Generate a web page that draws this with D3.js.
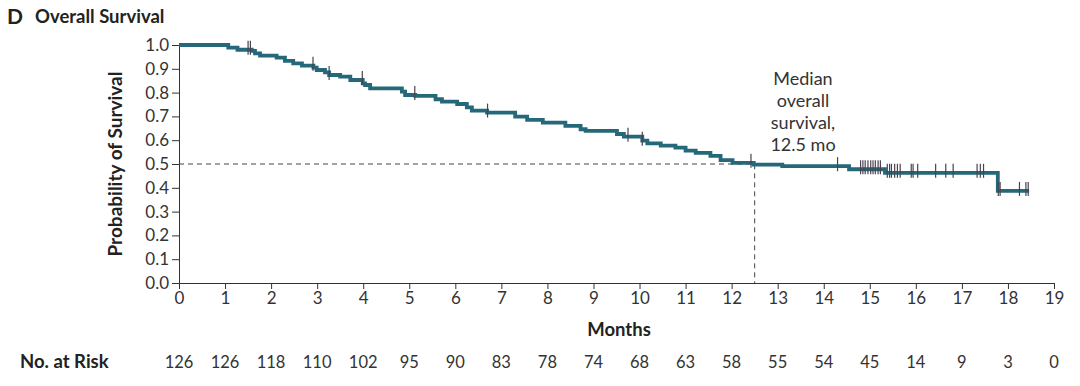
<!DOCTYPE html>
<html>
<head>
<meta charset="utf-8">
<script src="https://cdn.jsdelivr.net/npm/d3@7"></script>
<style>
    body { margin: 0; background: #fff; }
    svg { display: block; }
    text { font-family: Lato, "Open Sans", sans-serif; fill: #333; }
</style>
</head>
<body>
<svg id="grafico"></svg>
<script>
"use strict"
// step times (months) and survival after each step
const tempi = [0, 1.07, 1.27, 1.58, 1.65, 1.76, 2.12, 2.3, 2.48, 2.67, 2.92, 2.99, 3.17, 3.26, 3.5, 3.72, 3.99, 4.04, 4.15,
    4.84, 4.91, 5.13, 5.57, 5.71, 6.04, 6.25, 6.36, 6.69, 7.3, 7.56, 7.9, 8.39, 8.72, 8.83, 9.51, 9.66, 10.06, 10.17,
    10.46, 10.78, 11.0, 11.22, 11.54, 11.76, 12.02, 12.48, 13.1, 14.55, 15.33, 17.78];
const sopravvivenza = [1.0, 0.989, 0.98, 0.975, 0.965, 0.955, 0.947, 0.933, 0.923, 0.913, 0.905, 0.895, 0.885, 0.874, 0.867, 0.853, 0.839, 0.832, 0.818,
    0.804, 0.79, 0.786, 0.772, 0.762, 0.752, 0.738, 0.724, 0.716, 0.699, 0.685, 0.674, 0.66, 0.646, 0.639, 0.626, 0.615, 0.598, 0.587,
    0.577, 0.569, 0.556, 0.547, 0.534, 0.516, 0.505, 0.497, 0.491, 0.478, 0.463, 0.387];
const fineCurva = 18.46;
// censored observations
const censure = [1.5, 1.55, 2.91, 3.26, 3.98, 5.12, 6.7, 9.75, 10.06, 12.42, 14.3, 14.8, 14.85, 14.9, 14.96, 15.02, 15.07,
    15.12, 15.18, 15.23, 15.38, 15.43, 15.47, 15.54, 15.6, 15.66, 15.9, 15.94, 16.04, 16.43, 16.65, 16.81, 17.33, 17.4,
    17.47, 17.79, 17.83, 18.25, 18.39, 18.44];
const mesi = d3.range(0, 20);
const aRischio = [126, 126, 118, 110, 102, 95, 90, 83, 78, 74, 68, 63, 58, 55, 54, 45, 14, 9, 3, 0];
const ticksY = [0, 0.1, 0.2, 0.3, 0.4, 0.5, 0.6, 0.7, 0.8, 0.9, 1.0];
const mediana = 12.5;
const etichettaMediana = ["Median", "overall", "survival,", "12.5 mo"];

const grafico = { w: 1080, h: 386 };
const margine = { sx: 179, dx: 1054, su: 45, giu: 283 };
const colore = "#24687a";

const svg = d3.select("#grafico")
    .attr("width", grafico.w)
    .attr("height", grafico.h);

const scalaX = d3.scaleLinear().domain([0, 19]).range([margine.sx, margine.dx]);
const scalaY = d3.scaleLinear().domain([0, 1]).range([margine.giu, margine.su]);

// titolo
svg.append("text").attr("x", 7).attr("y", 24)
    .attr("font-size", "21px").attr("font-weight", "bold").style("fill", "#222").text("D");
svg.append("text").attr("x", 35).attr("y", 23)
    .attr("font-size", "18.5px").attr("font-weight", "bold").style("fill", "#222").text("Overall Survival");

// assi
const asseY = d3.axisLeft(scalaY).tickValues(ticksY).tickSize(7).tickPadding(3)
    .tickFormat(d3.format(".1f"));
const gY = svg.append("g")
    .attr("transform", `translate(${margine.sx},0)`)
    .call(asseY);
gY.select(".domain").attr("stroke", "#333");
gY.selectAll(".tick line").attr("stroke", "#333");
gY.selectAll(".tick text").attr("font-size", "17px").attr("font-family", "Lato, sans-serif").style("fill", "#333");

const asseX = d3.axisBottom(scalaX).tickValues(mesi).tickSize(6).tickPadding(3)
    .tickFormat(d3.format("d"));
const gX = svg.append("g")
    .attr("transform", `translate(0,${margine.giu})`)
    .call(asseX);
gX.select(".domain").attr("stroke", "#333");
gX.selectAll(".tick line").attr("stroke", "#333");
gX.selectAll(".tick text").attr("font-size", "17px").attr("font-family", "Lato, sans-serif").style("fill", "#333");

svg.append("text")
    .attr("transform", `translate(122,${scalaY(0.5)}) rotate(-90)`)
    .attr("text-anchor", "middle")
    .attr("font-size", "19px").attr("font-weight", "bold").style("fill", "#222")
    .text("Probability of Survival");

svg.append("text").attr("x", 619).attr("y", 336)
    .attr("text-anchor", "middle")
    .attr("font-size", "18.5px").attr("font-weight", "bold").style("fill", "#222")
    .text("Months");

// mediana tratteggiata
svg.append("path")
    .attr("d", `M${scalaX(0)},${scalaY(0.5)}H${scalaX(mediana)}V${scalaY(0)}`)
    .attr("fill", "none")
    .attr("stroke", "#444")
    .attr("stroke-width", 1)
    .attr("stroke-dasharray", "5,4");

svg.selectAll(".mediana")
    .data(etichettaMediana)
    .enter()
    .append("text")
    .attr("class", "mediana")
    .attr("x", 803)
    .attr("y", function (d, i) { return 85 + i * 22 })
    .attr("text-anchor", "middle")
    .attr("font-size", "18px")
    .text(function (d) { return d });

// curva KM
const punti = tempi.map(function (t, i) { return [t, sopravvivenza[i]] });
punti.push([fineCurva, sopravvivenza[sopravvivenza.length - 1]]);
const linea = d3.line()
    .x(function (d) { return scalaX(d[0]) })
    .y(function (d) { return scalaY(d[1]) })
    .curve(d3.curveStepAfter);

svg.append("path")
    .datum(punti)
    .attr("d", linea)
    .attr("fill", "none")
    .attr("stroke", colore)
    .attr("stroke-width", 3.8);

function livello(t) {
    const i = d3.bisectRight(tempi, t) - 1;
    return sopravvivenza[Math.max(i, 0)];
}

svg.selectAll(".censura")
    .data(censure)
    .enter()
    .append("line")
    .attr("class", "censura")
    .attr("x1", function (d) { return scalaX(d) })
    .attr("x2", function (d) { return scalaX(d) })
    .attr("y1", function (d) { return scalaY(livello(d)) - 9 })
    .attr("y2", function (d) { return scalaY(livello(d)) + 5 })
    .attr("stroke", "#4a4250")
    .attr("stroke-width", 1.2);

// numero a rischio
svg.append("text").attr("x", 20).attr("y", 368)
    .attr("font-size", "18.5px").attr("font-weight", "bold").style("fill", "#222")
    .text("No. at Risk");

svg.selectAll(".rischio")
    .data(aRischio)
    .enter()
    .append("text")
    .attr("class", "rischio")
    .attr("x", function (d, i) { return scalaX(mesi[i]) })
    .attr("y", 368)
    .attr("text-anchor", "middle")
    .attr("font-size", "16.5px")
    .text(function (d) { return d });
</script>
</body>
</html>
